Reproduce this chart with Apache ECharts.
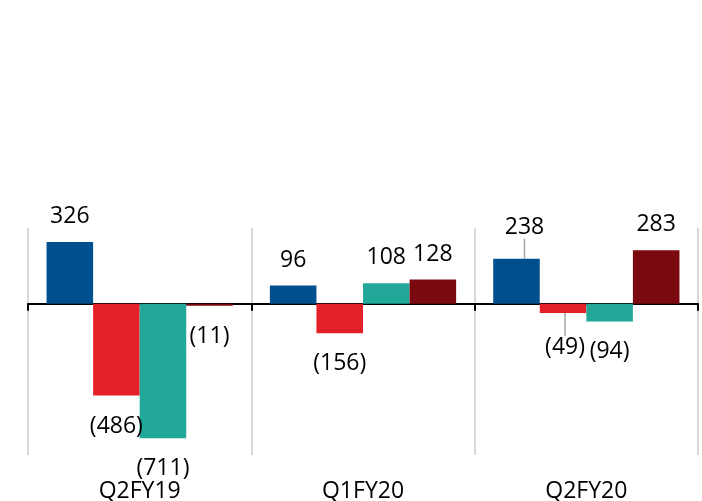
<!DOCTYPE html>
<html>
<head>
<meta charset="utf-8">
<script src="https://cdn.jsdelivr.net/npm/echarts@6/dist/echarts.min.js"></script>
<style>
html,body{margin:0;padding:0;background:#fff;}
#c{width:702px;height:501px;}
</style>
</head>
<body>
<div id="c"></div>
<script>
var categories = ['Q2FY19', 'Q1FY20', 'Q2FY20'];
var seriesA = [326, 96, 238];
var seriesB = [-486, -156, -49];
var seriesC = [-711, 108, -94];
var seriesD = [-11, 128, 283];
var colors = ['#00508f', '#e42128', '#22a898', '#7b0a10'];

var FONT = 'Open Sans';
// labels moved with a leader line: [seriesIndex, dataIndex, dx, dy]
var moved = [[0, 2, 8, -6], [1, 2, 2, 4]];
function findMove(s, d) {
  for (var i = 0; i < moved.length; i++) {
    if (moved[i][0] === s && moved[i][1] === d) return moved[i];
  }
  return null;
}
function fmt(p) {
  var v = p.value;
  return v < 0 ? '(' + Math.abs(v) + ')' : String(v);
}
function mk(name, data, color, idx) {
  return {
    name: name,
    type: 'bar',
    xAxisIndex: 0,
    data: data.map(function (v, j) {
      return {
        value: v,
        label: {
          position: v < 0 ? 'bottom' : 'top',
          distance: v < 0 ? 19 : 14
        },
        labelLine: { show: !!findMove(idx, j) }
      };
    }),
    barGap: '0%',
    barCategoryGap: '16.6%',
    itemStyle: { color: color },
    label: {
      show: true,
      formatter: fmt,
      fontFamily: FONT,
      fontSize: 23,
      color: '#000'
    },
    labelLine: { show: false, lineStyle: { color: '#a6a6a6', width: 1.5 } },
    labelLayout: function (params) {
      var m = findMove(idx, params.dataIndex);
      if (m) return { dx: m[2], dy: m[3] };
      return {};
    },
    emphasis: { disabled: true }
  };
}

var chart = echarts.init(document.getElementById('c'), null, { renderer: 'canvas' });
chart.setOption({
  animation: false,
  backgroundColor: '#fff',
  grid: { left: 28, right: 4, top: 228, bottom: 46, containLabel: false, outerBoundsMode: 'none' },
  xAxis: [{
    type: 'category',
    data: categories,
    position: 'bottom',
    axisLine: { show: true, onZero: true, lineStyle: { color: '#000', width: 2 } },
    axisTick: { show: true, length: 7, lineStyle: { color: '#000', width: 2 } },
    splitLine: { show: true, lineStyle: { color: '#d9d9d9', width: 2 } },
    axisLabel: { show: false }
  }, {
    type: 'category',
    data: categories,
    position: 'bottom',
    offset: 0,
    axisLine: { show: false, onZero: false },
    axisTick: { show: false },
    splitLine: { show: false },
    axisLabel: { show: true, margin: 25, fontFamily: FONT, fontSize: 23, color: '#000' }
  }],
  yAxis: {
    type: 'value',
    min: -800,
    max: 400,
    interval: 400,
    show: false,
    splitLine: { show: false }
  },
  series: [
    mk('A', seriesA, colors[0], 0),
    mk('B', seriesB, colors[1], 1),
    mk('C', seriesC, colors[2], 2),
    mk('D', seriesD, colors[3], 3)
  ]
});
</script>
</body>
</html>
